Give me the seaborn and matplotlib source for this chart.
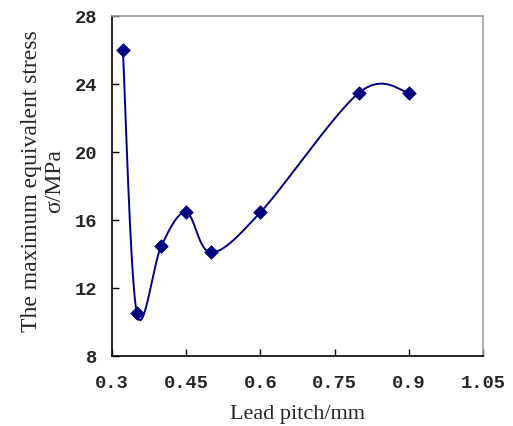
import numpy as np
import pandas as pd
import matplotlib
matplotlib.use("Agg")
import matplotlib.pyplot as plt
import seaborn as sb

pitch = [0.322, 0.35, 0.40, 0.45, 0.50, 0.60, 0.80, 0.90]
stress = [26.0, 10.55, 14.5, 16.45, 14.1, 16.45, 23.5, 23.5]
xticks = [0.3, 0.45, 0.6, 0.75, 0.9, 1.05]
xticklabels = ["0.3", "0.45", "0.6", "0.75", "0.9", "1.05"]
yticks = [8, 12, 16, 20, 24, 28]

df = pd.DataFrame({"pitch": pitch, "stress": stress})


# excel style smoothed line (bezier through points, catmull-rom tangents)
def smooth(x, y, n=40):
    p = np.column_stack([x, y])
    p = np.vstack([p[0], p, p[-1]])
    out = []
    for i in range(1, len(p) - 2):
        p0, p1, p2, p3 = p[i - 1], p[i], p[i + 1], p[i + 2]
        c1 = p1 + (p2 - p0) / 6
        c2 = p2 - (p3 - p1) / 6
        t = np.linspace(0, 1, n)[:, None]
        seg = (1 - t) ** 3 * p1 + 3 * (1 - t) ** 2 * t * c1 + 3 * (1 - t) * t ** 2 * c2 + t ** 3 * p2
        out.append(seg)
    return np.vstack(out)


curve = smooth(df["pitch"].values, df["stress"].values)
curve_df = pd.DataFrame(curve, columns=["pitch", "stress"])

sb.set_style("ticks")
plt.rcParams["font.family"] = ["Liberation Serif", "DejaVu Serif"]

fig = plt.figure(figsize=(5.13, 4.26), dpi=100)
ax = fig.add_axes([0.2183, 0.1643, 0.7232, 0.7981])

sb.lineplot(data=curve_df, x="pitch", y="stress", sort=False, color="#000080",
            linewidth=1.4, ax=ax)
sb.scatterplot(data=df, x="pitch", y="stress", marker="D", s=48, color="#000080",
               edgecolor="#000080", linewidth=0.5, zorder=3, ax=ax)

ax.set_xlim(0.3, 1.05)
ax.set_ylim(8, 28)
ax.set_xticks(xticks)
ax.set_xticklabels(xticklabels)
ax.set_yticks(yticks)
ax.tick_params(direction="in", length=5, width=1, color="black")
ax.tick_params(axis="x", pad=14)
ax.tick_params(axis="y", pad=10.5)
for lab in ax.get_xticklabels() + ax.get_yticklabels():
    lab.set_family(["Liberation Mono", "DejaVu Sans Mono"])
    lab.set_fontsize(13.5)
    lab.set_fontweight("bold")

for s in ["left", "bottom"]:
    ax.spines[s].set_color("black")
    ax.spines[s].set_linewidth(1.2)
for s in ["top", "right"]:
    ax.spines[s].set_color("#a0a0a0")
    ax.spines[s].set_linewidth(1.2)

ax.set_xlabel("Lead pitch/mm", fontsize=16, labelpad=9)
ax.set_ylabel("The maximum equivalent stress\n\u03c3/MPa", fontsize=17,
              linespacing=1.15)
ax.yaxis.set_label_coords(-0.125, 0.515)

fig.savefig("out.png", dpi=100)
